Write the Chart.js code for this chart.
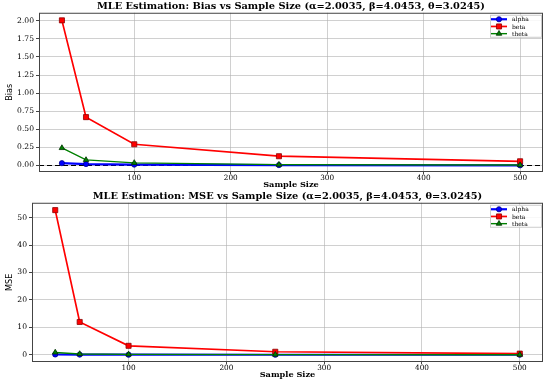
<!DOCTYPE html>
<html>
<head>
<meta charset="utf-8">
<script src="https://cdn.jsdelivr.net/npm/chart.js@4.4.0/dist/chart.umd.min.js"></script>
<style>
  body { margin: 0; background: #fff; }
  .panel { position: absolute; left: 0; width: 550px; height: 190px; }
</style>
</head>
<body>
<div class="panel" style="top:0"><canvas id="biasChart"></canvas></div>
<div class="panel" style="top:190px"><canvas id="mseChart"></canvas></div>
<script>
// sample sizes and results
const sampleSizes = [25, 50, 100, 250, 500];

const biasAlpha = [0.032, 0.020, 0.012, 0.005, 0.002];
const biasBeta  = [2.005, 0.668, 0.293, 0.128, 0.058];
const biasTheta = [0.242, 0.077, 0.036, 0.012, 0.006];

const mseAlpha = [0.10, 0.05, 0.02, 0.008, 0.004];
const mseBeta  = [52.75, 11.96, 3.26, 1.09, 0.42];
const mseTheta = [0.85, 0.30, 0.14, 0.06, 0.03];

const xTicks = [100, 200, 300, 400, 500];
const biasTicks = [0, 0.25, 0.5, 0.75, 1.0, 1.25, 1.5, 1.75, 2.0];
const mseTicks = [0, 10, 20, 30, 40, 50];

const serif = "'DejaVu Serif', 'Liberation Serif', serif";
const narrow = "'Liberation Sans Narrow', 'DejaVu Sans Condensed', 'Liberation Sans', sans-serif";
const gridColor = 'rgba(176,176,176,0.6)';

const seriesStyle = [
  { label: 'alpha', color: '#0000ff', edge: '#00008b', style: 'circle', radius: 2.6, width: 2.2 },
  { label: 'beta', color: '#ff0000', edge: '#8b0000', style: 'rect', radius: 3.6, width: 1.7 },
  { label: 'theta', color: '#008000', edge: '#003000', style: 'triangle', radius: 3.2, width: 1.4 }
];

// frame on all four sides, zero line and matplotlib-like legend
const framePlugin = {
  id: 'frame',
  beforeDatasetsDraw(chart, args, opts) {
    if (!opts.zeroLine) return;
    const { ctx, chartArea: a, scales } = chart;
    const y = scales.y.getPixelForValue(0);
    ctx.save();
    ctx.strokeStyle = '#000';
    ctx.lineWidth = 1.2;
    ctx.setLineDash([5, 3]);
    ctx.beginPath();
    ctx.moveTo(a.left, y);
    ctx.lineTo(a.right, y);
    ctx.stroke();
    ctx.restore();
  },
  afterDraw(chart) {
    const { ctx, chartArea: a } = chart;
    ctx.save();
    ctx.strokeStyle = '#444';
    ctx.lineWidth = 1;
    ctx.strokeRect(a.left + 0.5, a.top + 0.5, a.right - a.left - 1, a.bottom - a.top - 1);

    // legend box
    const bx = a.right - 53, by = a.top + 2, bw = 51, bh = 22;
    ctx.fillStyle = 'rgba(255,255,255,0.85)';
    ctx.strokeStyle = '#ccc';
    ctx.lineWidth = 1;
    ctx.fillRect(bx, by, bw, bh);
    ctx.strokeRect(bx + 0.5, by + 0.5, bw, bh);
    ctx.font = '6px ' + serif;
    ctx.textBaseline = 'middle';
    seriesStyle.forEach((s, i) => {
      const yy = by + 4.5 + i * 7.2;
      ctx.strokeStyle = s.color;
      ctx.lineWidth = s.width;
      ctx.beginPath();
      ctx.moveTo(bx + 1, yy);
      ctx.lineTo(bx + 17, yy);
      ctx.stroke();
      ctx.fillStyle = s.color;
      ctx.strokeStyle = s.edge;
      ctx.lineWidth = 0.8;
      Chart.helpers.drawPoint(ctx, { pointStyle: s.style, radius: s.radius, borderWidth: 0.8 }, bx + 9, yy);
      ctx.fillStyle = '#000';
      ctx.fillText(s.label, bx + 22, yy + 0.5);
    });
    ctx.restore();
  }
};

function makeDatasets(values) {
  return values.map((vals, i) => {
    const s = seriesStyle[i];
    return {
      label: s.label,
      data: sampleSizes.map((n, j) => ({ x: n, y: vals[j] })),
      borderColor: s.color,
      backgroundColor: s.color,
      borderWidth: s.width,
      pointStyle: s.style,
      pointRadius: s.radius,
      pointBackgroundColor: s.color,
      pointBorderColor: s.edge,
      pointBorderWidth: 0.8,
      tension: 0,
      order: 3 - i
    };
  });
}

function makeChart(id, title, yLabel, values, yMin, yMax, yTicks, yWidth, fmt, zeroLine) {
  return new Chart(document.getElementById(id), {
    type: 'line',
    data: { datasets: makeDatasets(values) },
    plugins: [framePlugin],
    options: {
      responsive: false,
      animation: false,
      devicePixelRatio: 1,
      layout: { padding: { left: 0, right: 7, top: 0, bottom: 0 } },
      plugins: {
        legend: { display: false },
        tooltip: { enabled: false },
        title: {
          display: true,
          fullSize: false,
          text: title,
          color: '#000',
          font: { family: serif, size: 9.8, weight: 'bold', lineHeight: 1.2 },
          padding: { top: 1, bottom: 0 }
        },
        frame: { zeroLine: zeroLine }
      },
      scales: {
        x: {
          type: 'linear',
          min: 1.25,
          max: 523.75,
          afterBuildTicks: s => { s.ticks = xTicks.map(v => ({ value: v })); },
          afterFit: s => { s.height = 18; },
          grid: { color: gridColor, lineWidth: 1, tickLength: 2, tickColor: '#444' },
          border: { display: false },
          ticks: { color: '#000', font: { family: serif, size: 7.3 }, padding: 0, maxRotation: 0 },
          title: {
            display: true, text: 'Sample Size', color: '#000',
            font: { family: serif, size: 8.2, weight: 'bold', lineHeight: 1.2 },
            padding: { top: 0, bottom: 0 }
          }
        },
        y: {
          min: yMin,
          max: yMax,
          afterBuildTicks: s => { s.ticks = yTicks.map(v => ({ value: v })); },
          afterFit: s => { s.width = yWidth; },
          grid: { color: gridColor, lineWidth: 1, tickLength: 3, tickColor: '#444' },
          border: { display: false },
          ticks: { color: '#000', font: { family: serif, size: 7.6 }, padding: 2, callback: fmt },
          title: {
            display: true, text: yLabel, color: '#000',
            font: { family: narrow, size: 9, lineHeight: 1.2 },
            padding: { top: 4, bottom: 0 }
          }
        }
      }
    }
  });
}

for (const id of ['biasChart', 'mseChart']) {
  const c = document.getElementById(id);
  c.width = 550; c.height = 190;
}

makeChart('biasChart',
  'MLE Estimation: Bias vs Sample Size (\u03b1=2.0035, \u03b2=4.0453, \u03b8=3.0245)',
  'Bias', [biasAlpha, biasBeta, biasTheta], -0.09, 2.11, biasTicks, 39,
  v => v.toFixed(2), true);

makeChart('mseChart',
  'MLE Estimation: MSE vs Sample Size (\u03b1=2.0035, \u03b2=4.0453, \u03b8=3.0245)',
  'MSE', [mseAlpha, mseBeta, mseTheta], -2.64, 55.44, mseTicks, 32,
  v => String(v), false);
</script>
</body>
</html>
